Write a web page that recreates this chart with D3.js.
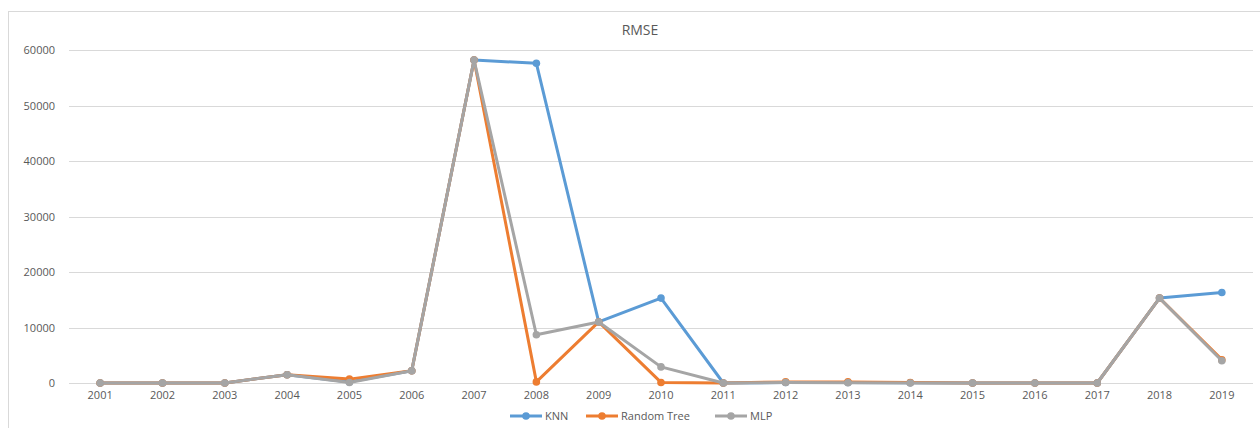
<!DOCTYPE html>
<html>
<head>
<meta charset="utf-8">
<script src="https://cdn.jsdelivr.net/npm/d3@7"></script>
<style>
  html, body { margin: 0; padding: 0; background: #fff; }
  svg { display: block; }
  text { font-family: "Open Sans", "Liberation Sans", sans-serif; fill: #595959; }
</style>
</head>
<body>
<svg id="chart" width="1260" height="428"></svg>
<script>
// Years on the category axis
const years = ["2001","2002","2003","2004","2005","2006","2007","2008","2009","2010",
               "2011","2012","2013","2014","2015","2016","2017","2018","2019"];

// RMSE per year for each model
const knn          = [0, 0, 0, 1500, 200, 2200, 58200, 57600, 11000, 15300, 0, 100, 100, 50, 0, 0, 0, 15300, 16300];
const randomTree   = [0, 0, 0, 1500, 700, 2200, 58200, 200, 11000, 100, 0, 200, 200, 100, 0, 0, 0, 15300, 4200];
const mlp          = [0, 0, 0, 1500, 100, 2200, 58200, 8700, 11000, 2900, 0, 100, 50, 0, 0, 0, 0, 15300, 4000];

// Value-axis ticks
const yTicks = [0, 10000, 20000, 30000, 40000, 50000, 60000];

const seriesNames = ["KNN", "Random Tree", "MLP"];
const seriesColors = ["#5B9BD5", "#ED7D31", "#A5A5A5"];
const series = [knn, randomTree, mlp];

const svg = d3.select("#chart");
const margin = { left: 69, right: 7, top: 50, bottom: 45 };
const W = 1260, H = 428;

// Chart frame
svg.append("rect")
  .attr("x", 8.5).attr("y", 11.5)
  .attr("width", 1300).attr("height", 500)
  .attr("fill", "none").attr("stroke", "#d9d9d9").attr("stroke-width", 1);

const x = d3.scaleBand()
  .domain(years)
  .range([margin.left, W - margin.right]);

const y = d3.scaleLinear()
  .domain([0, 60000])
  .range([H - margin.bottom, margin.top]);

// Horizontal gridlines
svg.append("g")
  .selectAll("line")
  .data(yTicks)
  .join("line")
  .attr("x1", margin.left).attr("x2", W - margin.right)
  .attr("y1", d => Math.round(y(d)) + 0.5).attr("y2", d => Math.round(y(d)) + 0.5)
  .attr("stroke", "#d9d9d9").attr("stroke-width", 1);

// Y axis labels
const yAxis = d3.axisLeft(y).tickValues(yTicks).tickSize(0).tickPadding(14).tickFormat(d3.format("d"));
svg.append("g")
  .attr("transform", `translate(${margin.left},0)`)
  .call(yAxis)
  .call(g => g.select(".domain").remove())
  .call(g => g.selectAll("text").attr("font-size", 11).style("font-family", null).attr("fill", "#595959"));

// X axis labels
const xAxis = d3.axisBottom(x).tickSize(0).tickPadding(8);
svg.append("g")
  .attr("transform", `translate(0,${H - margin.bottom})`)
  .call(xAxis)
  .call(g => g.select(".domain").remove())
  .call(g => g.selectAll("text").attr("font-size", 11).style("font-family", null).attr("fill", "#595959"));

// Title
svg.append("text")
  .attr("x", 640).attr("y", 35)
  .attr("text-anchor", "middle")
  .attr("font-size", 14)
  .text("RMSE");

// Series lines and markers
const line = d3.line()
  .x((d, i) => x(years[i]) + x.bandwidth() / 2)
  .y(d => y(d));

series.forEach((vals, si) => {
  const g = svg.append("g");
  g.append("path")
    .datum(vals)
    .attr("d", line)
    .attr("fill", "none")
    .attr("stroke", seriesColors[si])
    .attr("stroke-width", 3)
    .attr("stroke-linejoin", "round");
  g.selectAll("circle")
    .data(vals)
    .join("circle")
    .attr("cx", (d, i) => x(years[i]) + x.bandwidth() / 2)
    .attr("cy", d => y(d))
    .attr("r", 3.8)
    .attr("fill", seriesColors[si]);
});

// Legend
const legendX = [510, 586, 715];
const legendY = 416;
const legend = svg.append("g");
seriesNames.forEach((name, i) => {
  const lx = legendX[i];
  legend.append("line")
    .attr("x1", lx).attr("x2", lx + 32)
    .attr("y1", legendY).attr("y2", legendY)
    .attr("stroke", seriesColors[i]).attr("stroke-width", 3);
  legend.append("circle")
    .attr("cx", lx + 16).attr("cy", legendY).attr("r", 3.8)
    .attr("fill", seriesColors[i]);
  legend.append("text")
    .attr("x", lx + 35).attr("y", legendY + 4)
    .attr("font-size", 11)
    .text(name);
});
</script>
</body>
</html>
